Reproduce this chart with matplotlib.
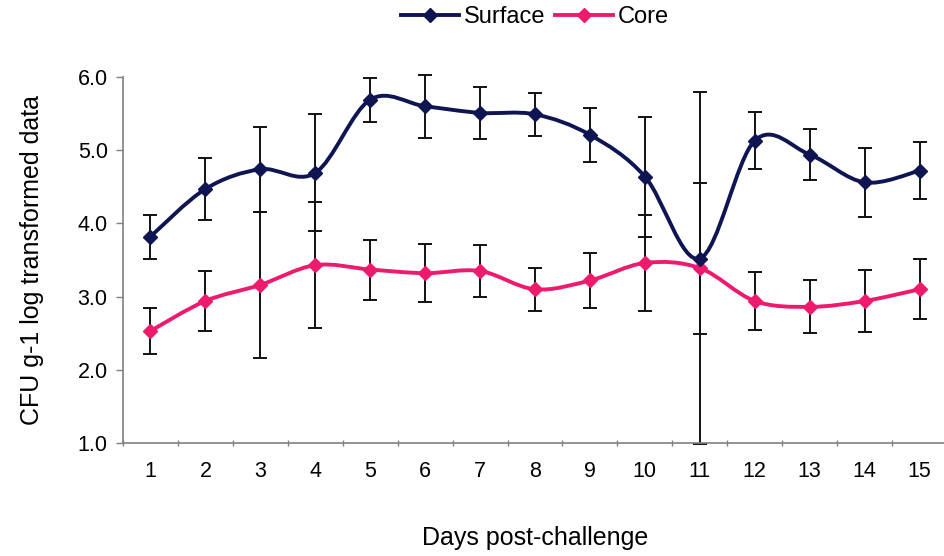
import numpy as np
import matplotlib
matplotlib.use("Agg")
import matplotlib.pyplot as plt
from matplotlib.path import Path
from matplotlib.patches import PathPatch
from matplotlib.lines import Line2D

plt.rcParams["font.family"] = ["Liberation Sans", "DejaVu Sans"]

days = [1, 2, 3, 4, 5, 6, 7, 8, 9, 10, 11, 12, 13, 14, 15]
surface = [3.82, 4.47, 4.74, 4.69, 5.69, 5.60, 5.51, 5.49, 5.21, 4.64, 3.52, 5.13, 4.94, 4.56, 4.72]
surface_err = [0.30, 0.43, 0.58, 0.80, 0.30, 0.43, 0.36, 0.29, 0.37, 0.82, 1.03, 0.39, 0.35, 0.47, 0.39]
core = [2.53, 2.94, 3.16, 3.43, 3.37, 3.32, 3.35, 3.10, 3.22, 3.46, 3.39, 2.94, 2.86, 2.94, 3.10]
core_err = [0.31, 0.41, 1.00, 0.86, 0.41, 0.40, 0.36, 0.29, 0.37, 0.65, 2.41, 0.40, 0.36, 0.43, 0.41]
y_ticks = [1.0, 2.0, 3.0, 4.0, 5.0, 6.0]

SURFACE_COLOR = "#0f1552"
CORE_COLOR = "#ee1a6e"


def smooth_path(x, y):
    """Cubic Bezier path through the points (Catmull-Rom style smoothing)."""
    x = np.asarray(x, float)
    y = np.asarray(y, float)
    px = np.concatenate([[x[0]], x, [x[-1]]])
    py = np.concatenate([[y[0]], y, [y[-1]]])
    verts = [(x[0], y[0])]
    codes = [Path.MOVETO]
    for i in range(1, len(px) - 2):
        c1 = (px[i] + (px[i + 1] - px[i - 1]) / 6, py[i] + (py[i + 1] - py[i - 1]) / 6)
        c2 = (px[i + 1] - (px[i + 2] - px[i]) / 6, py[i + 1] - (py[i + 2] - py[i]) / 6)
        verts += [c1, c2, (px[i + 1], py[i + 1])]
        codes += [Path.CURVE4] * 3
    return Path(verts, codes)


fig = plt.figure(figsize=(9.45, 5.56), dpi=100)
ax = fig.add_axes([123 / 945, 1 - 443 / 556, 824 / 945, 366 / 556])

for vals, errs in [(surface, surface_err), (core, core_err)]:
    ax.errorbar(days, vals, yerr=errs, fmt="none", ecolor="#111111",
                elinewidth=1.4, capsize=5, capthick=1.4, zorder=2, clip_on=False)

for vals, color in [(core, CORE_COLOR), (surface, SURFACE_COLOR)]:
    ax.add_patch(PathPatch(smooth_path(days, vals), facecolor="none",
                           edgecolor=color, lw=2.8, zorder=3, capstyle="round"))
    ax.plot(days, vals, linestyle="none", marker="D", markersize=7.5,
            color=color, zorder=4)

ax.set_xlim(0.5, 15.5)
ax.set_ylim(1.0, 6.0)
ax.set_xticks(days)
ax.set_xticklabels([str(d) for d in days])
ax.set_xticks(np.arange(0.5, 15.6, 1.0), minor=True)
ax.tick_params(axis="x", which="major", length=0, pad=13, labelsize=15.5)
ax.tick_params(axis="x", which="minor", length=5, width=1, color="#808080",
               direction="inout")
ax.set_yticks(y_ticks)
ax.set_yticklabels([f"{v:.1f}" for v in y_ticks])
ax.tick_params(axis="y", length=5, width=1, color="#808080", pad=6,
               labelsize=15.5, direction="out")

for s in ["top", "right"]:
    ax.spines[s].set_visible(False)
for s in ["left", "bottom"]:
    ax.spines[s].set_color("#808080")
    ax.spines[s].set_linewidth(1.2)

ax.set_xlabel("Days post-challenge", fontsize=18, labelpad=32)
ax.set_ylabel("CFU g-1 log transformed data", fontsize=18, labelpad=24)

handles = [
    Line2D([], [], color=SURFACE_COLOR, lw=2.8, marker="D", markersize=7.5),
    Line2D([], [], color=CORE_COLOR, lw=2.8, marker="D", markersize=7.5),
]
fig.legend(handles, ["Surface", "Core"], loc="center",
           bbox_to_anchor=(535 / 945, 1 - 17 / 556),
           ncol=2, frameon=False, fontsize=17, handlelength=2.45,
           handletextpad=0.2, columnspacing=0.4)

fig.savefig("out.png", dpi=100)
